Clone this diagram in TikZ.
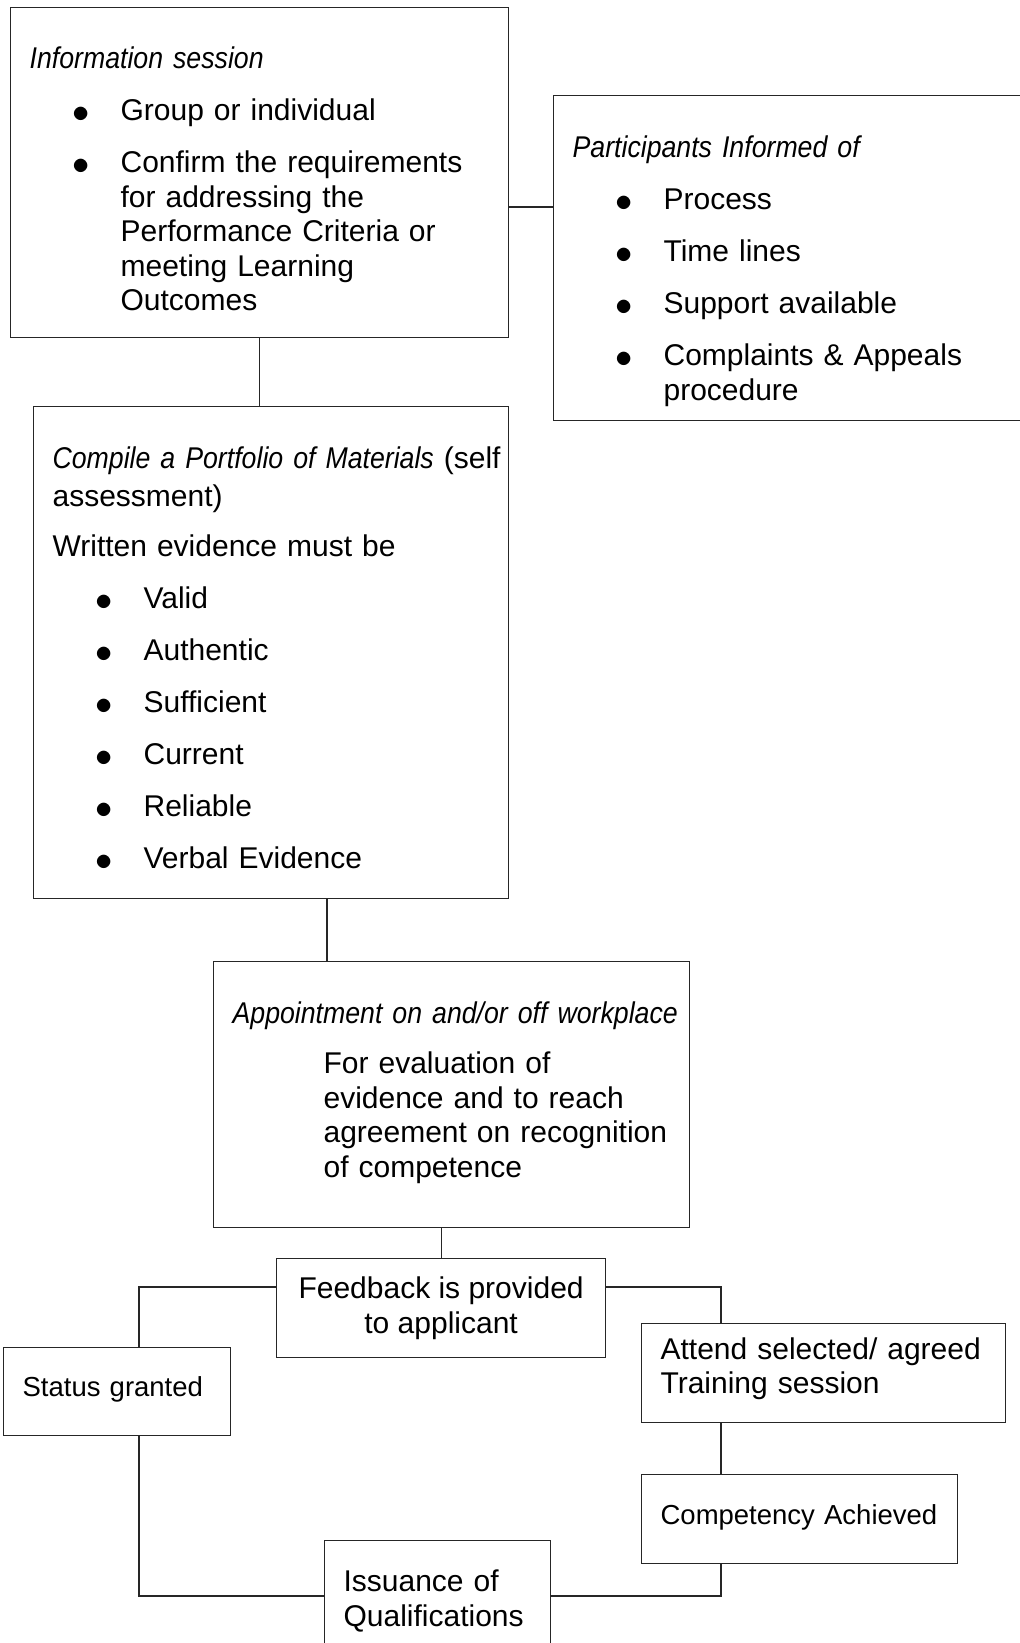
\documentclass[tikz,border=0pt]{standalone}
\usepackage{fontspec}
\setmainfont{Liberation Sans}
\newfontfamily\narrowfont[FakeStretch=0.89]{Liberation Sans}
\usetikzlibrary{positioning}
\setlength{\parindent}{0pt}
\newcommand{\heading}[1]{{\narrowfont\itshape #1}}
\newcommand{\dotmark}{\hspace*{-4.75pt}\raisebox{-1pt}{\fontsize{19}{19}\selectfont$\bullet$}}
\newcommand{\bulletitem}[1]{\par\vspace{8.7pt}\hangindent=45.5pt\hangafter=1\noindent\hspace*{26pt}\makebox[19.5pt][l]{\dotmark}#1}
% trailing space: moves the text of a box up (positive) or down (negative) by half
\newcommand{\nudge}[1]{\par\vspace{#1}\hrule height 0pt}
\tikzset{
    box/.style={
        shape=rectangle,
        draw=black!85,
        line width=0.6pt,
        anchor=north west,
        align=left,
        inner xsep=9.5pt,
        inner ysep=0pt,
        font=\fontsize{15}{17.25}\selectfont
    },
    smallbox/.style={
        box,
        font=\fontsize{13.75}{16}\selectfont
    },
    link/.style={
        draw=black!85,
        line width=0.6pt
    }
}

\begin{document}
\begin{tikzpicture}[x=0.5pt, y=-0.5pt]
    \useasboundingbox (0,0) rectangle (1019,1643);

    \node[box, minimum width=249pt, minimum height=165pt, text width=230pt] (info) at (10,7) {%
        \heading{Information session}
        \bulletitem{Group or individual}
        \bulletitem{Confirm the requirements\newline for addressing the\newline Performance Criteria or\newline meeting Learning\newline Outcomes}\nudge{-6.3pt}};

    \node[box, minimum width=236pt, minimum height=162.5pt, text width=217pt] (part) at (553,95) {%
        \heading{Participants Informed of}
        \bulletitem{Process}
        \bulletitem{Time lines}
        \bulletitem{Support available}
        \bulletitem{Complaints \& Appeals\newline procedure}\nudge{-13.1pt}};

    \node[box, minimum width=237.5pt, minimum height=246pt, text width=218.5pt] (port) at (33,406) {%
        \mbox{\heading{Compile a Portfolio of Materials} (self}\par\vspace{1.6pt}
        assessment)\par\vspace{7.75pt}
        Written evidence must be
        \bulletitem{Valid}
        \bulletitem{Authentic}
        \bulletitem{Sufficient}
        \bulletitem{Current}
        \bulletitem{Reliable}
        \bulletitem{Verbal Evidence}\nudge{-6pt}};

    \node[box, minimum width=238pt, minimum height=133pt, text width=219pt] (appt) at (213,961) {%
        \mbox{\heading{Appointment on and/or off workplace}}\par\vspace{8pt}
        \hangindent=45.5pt\hangafter=0
        For evaluation of\newline evidence and to reach\newline \mbox{agreement on recognition}\newline of competence\nudge{2.1pt}};

    \node[box, align=center, minimum width=164.5pt, minimum height=49.5pt] (feed) at (276,1258) {Feedback is provided\\to applicant};
    \node[smallbox, minimum width=113.5pt, minimum height=44pt, text width=94.5pt] (status) at (3,1347) {Status granted\nudge{2pt}};
    \node[box, minimum width=182pt, minimum height=49.5pt, text width=163pt] (attend) at (641,1323) {Attend selected/ agreed\\Training session\nudge{4.2pt}};
    \node[smallbox, minimum width=158pt, minimum height=44.5pt, text width=139pt] (comp) at (641,1474) {\mbox{Competency Achieved}\nudge{2pt}};
    \node[box, minimum width=113pt, minimum height=55pt, text width=94pt] (issue) at (324,1540) {Issuance of\\Qualifications\nudge{-5.2pt}};

    \coordinate (infojoin) at (530,207);
    \coordinate (portjoin) at (327,930);
    \coordinate (leftjoin) at (139,1287);
    \coordinate (rightjoin) at (721,1287);
    \coordinate (basejoin) at (430,1596);

    \begin{scope} % connectors
        \draw[link] (info.south) -- (info.south |- port.north);
        \draw[link] (info.east |- infojoin) -- (part.west |- infojoin);
        \draw[link] (portjoin |- port.south) -- (portjoin |- appt.north);
        \draw[link] (feed.north) -- (feed.north |- appt.south);
        \draw[link] (feed.west |- leftjoin) -- (leftjoin) -- (leftjoin |- status.north);
        \draw[link] (feed.east |- rightjoin) -- (rightjoin) -- (rightjoin |- attend.north);
        \draw[link] (rightjoin |- attend.south) -- (rightjoin |- comp.north);
        \draw[link] (rightjoin |- comp.south) -- (rightjoin |- basejoin) -- (issue.east |- basejoin);
        \draw[link] (leftjoin |- status.south) -- (leftjoin |- basejoin) -- (issue.west |- basejoin);
    \end{scope}
\end{tikzpicture}
\end{document}
